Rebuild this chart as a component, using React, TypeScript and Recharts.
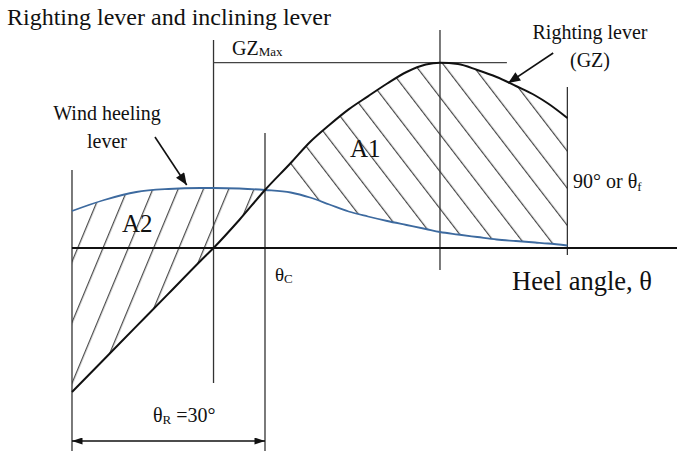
import React from 'react';
import { ComposedChart, Line, Area, XAxis, YAxis, ReferenceLine, Customized } from 'recharts';

// Heel angle samples (schematic degrees; left boundary = 0, θC = 30)
const heelDeg = [0, 5, 10, 15, 20, 22, 26, 30, 34, 37, 40, 43, 46, 49, 52, 55, 57.2, 60, 63, 66, 69, 72, 74, 77];
// Righting lever GZ (black)
const rightingLever = [-1.44, -1.112, -0.784, -0.456, -0.127, 0, 0.28, 0.58, 0.85, 1.06, 1.23, 1.386, 1.517, 1.645, 1.76, 1.835, 1.853, 1.84, 1.78, 1.71, 1.62, 1.525, 1.445, 1.3];
// Wind heeling lever (blue)
const windLever = [0.37, 0.48, 0.56, 0.59, 0.6, 0.6, 0.595, 0.58, 0.555, 0.505, 0.435, 0.365, 0.315, 0.27, 0.23, 0.19, 0.16, 0.135, 0.11, 0.085, 0.07, 0.055, 0.045, 0.025];

const thetaC = 30;
const thetaR = 30;
const hatchA1Start = 34;
const gzMax = 1.853;

// vertical guide lines: angle, top, bottom
const guideX = [0, 22, 30, 57.2, 77];
const guideTop = [0.78, 2.08, 1.15, 2.18, 1.61];
const guideBottom = [-2.03, -1.35, -2.03, -0.22, -0.07];

const data = heelDeg.map((deg, i) => ({
  deg,
  black: rightingLever[i],
  blue: windLever[i],
  a2: deg <= thetaC ? [rightingLever[i], windLever[i]] : null,
  a1: deg >= hatchA1Start ? [windLever[i], rightingLever[i]] : null,
}));

const FONT = '"Liberation Serif", "Times New Roman", serif';

const arrowShape = (p: any) => (
  <line x1={p.x1} y1={p.y1} x2={p.x2} y2={p.y2} stroke="#111" strokeWidth={1.6} markerEnd="url(#ahBig)" />
);
const dimShape = (p: any) => (
  <line x1={p.x1} y1={p.y1} x2={p.x2} y2={p.y2} stroke="#111" strokeWidth={1.4} markerStart="url(#ahSmall)" markerEnd="url(#ahSmall)" />
);

const Defs = () => (
  <defs>
    <pattern id="hatchA2" patternUnits="userSpaceOnUse" width={23.36} height={10} patternTransform="rotate(22.6)">
      <line x1={3.6} y1={-1} x2={3.6} y2={11} stroke="#222" strokeWidth={1} />
    </pattern>
    <pattern id="hatchA1" patternUnits="userSpaceOnUse" width={22.66} height={10} patternTransform="rotate(-37.6)">
      <line x1={17.4} y1={-1} x2={17.4} y2={11} stroke="#222" strokeWidth={1} />
    </pattern>
    <marker id="ahBig" viewBox="0 0 12 10" refX={12} refY={5} markerWidth={13} markerHeight={10} markerUnits="userSpaceOnUse" orient="auto-start-reverse">
      <path d="M0,0 L12,5 L0,10 z" fill="#111" />
    </marker>
    <marker id="ahSmall" viewBox="0 0 12 8" refX={12} refY={4} markerWidth={11} markerHeight={7} markerUnits="userSpaceOnUse" orient="auto-start-reverse">
      <path d="M0,0 L12,4 L0,8 z" fill="#111" />
    </marker>
  </defs>
);

const Labels = () => (
  <g fontFamily={FONT} fill="#111">
    <text x={7} y={25} fontSize={24}>Righting lever and inclining lever</text>
    <text x={232} y={55} fontSize={20}>GZ<tspan fontSize={13} dy={1}>Max</tspan></text>
    <text x={107} y={120} fontSize={20} textAnchor="middle">Wind heeling</text>
    <text x={107} y={148} fontSize={20} textAnchor="middle">lever</text>
    <text x={590} y={39} fontSize={20} textAnchor="middle">Righting lever</text>
    <text x={590} y={67} fontSize={20} textAnchor="middle">(GZ)</text>
    <text x={350} y={157} fontSize={25}>A1</text>
    <text x={122} y={232} fontSize={25}>A2</text>
    <text x={573} y={188} fontSize={20}>90° or θ<tspan fontSize={13} dy={3}>f</tspan></text>
    <text x={275} y={281} fontSize={19}>θ<tspan fontSize={13} dy={2}>C</tspan></text>
    <text x={512} y={290} fontSize={26.5}>Heel angle, θ</text>
    <text x={153} y={422} fontSize={20}>θ<tspan fontSize={13} dy={2}>R</tspan><tspan dy={-2}> =30°</tspan></text>
  </g>
);

export default function App() {
  return (
    <div style={{ position: 'absolute', left: 0, top: 0, width: 677, height: 451, background: '#fff' }}>
      <ComposedChart width={677} height={451} data={data} margin={{ top: 0, right: 0, bottom: 0, left: 0 }}>
        <Customized component={Defs} />
        <XAxis type="number" dataKey="deg" domain={[-11.19, 94.04]} hide allowDataOverflow />
        <YAxis type="number" domain={[-2.03, 2.48]} hide allowDataOverflow />
        <Area dataKey="a2" type="monotone" stroke="none" fill="url(#hatchA2)" fillOpacity={1} dot={false} activeDot={false} isAnimationActive={false} />
        <Area dataKey="a1" type="monotone" stroke="none" fill="url(#hatchA1)" fillOpacity={1} dot={false} activeDot={false} isAnimationActive={false} />
        {guideX.map((x, i) => (
          <ReferenceLine key={'g' + i} ifOverflow="visible" segment={[{ x, y: guideTop[i] }, { x, y: guideBottom[i] }]} stroke="#333" strokeWidth={1.3} />
        ))}
        <ReferenceLine ifOverflow="visible" segment={[{ x: 0, y: 0 }, { x: 94.04, y: 0 }]} stroke="#111" strokeWidth={2} />
        <ReferenceLine ifOverflow="visible" segment={[{ x: 22, y: gzMax }, { x: 67.6, y: gzMax }]} stroke="#444" strokeWidth={1.2} />
        <Line dataKey="blue" type="monotone" stroke="#3d6a9f" strokeWidth={1.8} dot={false} activeDot={false} isAnimationActive={false} />
        <Line dataKey="black" type="monotone" stroke="#111" strokeWidth={2} dot={false} activeDot={false} isAnimationActive={false} />
        <ReferenceLine ifOverflow="visible" segment={[{ x: 12.9, y: 1.11 }, { x: 17.83, y: 0.63 }]} shape={arrowShape} />
        <ReferenceLine ifOverflow="visible" segment={[{ x: 74.8, y: 1.95 }, { x: 67.8, y: 1.65 }]} shape={arrowShape} />
        <ReferenceLine ifOverflow="visible" segment={[{ x: 0, y: -1.93 }, { x: thetaR, y: -1.93 }]} shape={dimShape} />
        <Customized component={Labels} />
      </ComposedChart>
    </div>
  );
}
